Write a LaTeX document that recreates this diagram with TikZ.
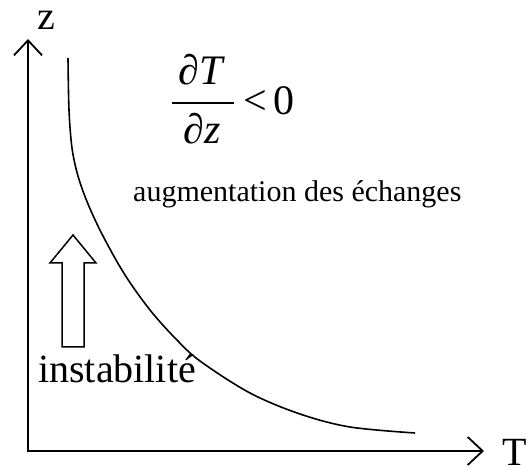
\documentclass[tikz,border=0pt]{standalone}
\usepackage{fontspec}
\setmainfont{Liberation Serif}
\usetikzlibrary{arrows.meta}
\tikzset{
  axis/.style={line width=1.8pt,-{Straight Barb[length=15pt,width=28pt,line width=1.8pt]}},
  curve/.style={line width=1.6pt},
  blockarrow/.style={line width=1.5pt,fill=white},
  lbl/.style={inner sep=0pt,anchor=base west},
  mid/.style={inner sep=0pt,anchor=base},
  big/.style={font=\fontsize{40}{40}\selectfont},
  mathsz/.style={font=\fontsize{42}{42}\selectfont}
}
\begin{document}
\begin{tikzpicture}[x=1pt,y=-1pt]
\useasboundingbox (0,0) rectangle (531,470);
\coordinate (o) at (28,451);
\coordinate (ztop) at (28,39);
\coordinate (tend) at (484,451);
\draw[axis,line cap=rect] (o) -- (ztop);
\draw[axis,line cap=rect] (o) -- (tend);
\node[lbl,big] (zl) at (37,30) {z};
\node[lbl,big] (tl) at (502,466) {T};
\draw[curve] plot[smooth,tension=0.55] coordinates {(68,58) (69,110) (72,148) (78,176) (88,204) (103,236) (125,275) (150,310) (175,338) (200,361) (250,393) (300,414) (350,427) (415,433)};
\draw[blockarrow] (62,347) -- (62,263) -- (50,263) -- (73,235) -- (96,263) -- (84,263) -- (84,347) -- cycle;
\node[lbl,big] (inst) at (38,383) {instabilité};
\node[lbl,font=\fontsize{30}{30}\selectfont] (aug) at (133,202) {augmentation des échanges};
\node[mid,mathsz] (num) at (202,85) {∂\textit{T}};
\node[mid,mathsz] (den) at (202,144) {∂\textit{z}};
\coordinate (barl) at (172,103);
\coordinate (barr) at (234,103);
\draw[line width=1.4pt] (barl) -- (barr);
\node[lbl,mathsz] (rel) at (243,115) {<\,0};
\end{tikzpicture}
\end{document}
